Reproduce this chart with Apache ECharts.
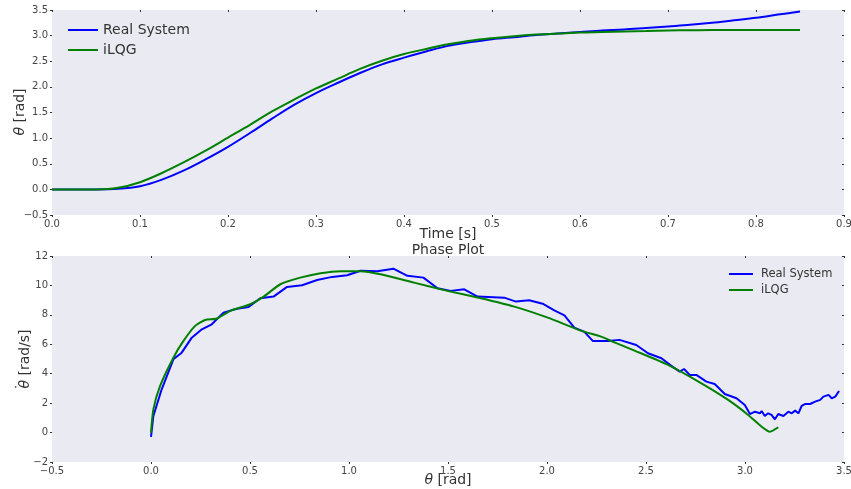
<!DOCTYPE html>
<html>
<head>
<meta charset="utf-8">
<script src="https://cdn.jsdelivr.net/npm/echarts@6/dist/echarts.min.js"></script>
<style>html,body{margin:0;padding:0;background:#fff;}#c{width:851px;height:489px;}</style>
</head>
<body>
<div id="c"></div>
<script>
// ---- Data ----
const timeS      = [0, 0.025, 0.05, 0.075, 0.1, 0.125, 0.15, 0.175, 0.2, 0.225, 0.25, 0.275, 0.3, 0.325, 0.35, 0.375, 0.4, 0.425, 0.45, 0.475, 0.5, 0.525, 0.55, 0.575, 0.6, 0.625, 0.65, 0.675, 0.7, 0.725, 0.75, 0.775, 0.8, 0.825, 0.85];
const realTheta  = [0, 0, 0, 0.01, 0.06, 0.19, 0.37, 0.59, 0.83, 1.10, 1.38, 1.65, 1.88, 2.08, 2.27, 2.44, 2.57, 2.69, 2.80, 2.87, 2.93, 2.97, 3.01, 3.04, 3.07, 3.10, 3.12, 3.15, 3.18, 3.21, 3.25, 3.30, 3.35, 3.41, 3.47];
const ilqgTheta  = [0, 0, 0, 0.03, 0.14, 0.32, 0.53, 0.76, 1.01, 1.26, 1.52, 1.75, 1.97, 2.16, 2.35, 2.51, 2.64, 2.74, 2.83, 2.90, 2.95, 2.99, 3.02, 3.04, 3.06, 3.07, 3.08, 3.09, 3.10, 3.105, 3.11, 3.11, 3.11, 3.11, 3.11];

const phaseRealTheta = [0, 0.012, 0.054, 0.113, 0.155, 0.206, 0.257, 0.307, 0.366, 0.434, 0.493, 0.552, 0.619, 0.687, 0.763, 0.839, 0.915, 0.991, 1.058, 1.143, 1.224, 1.295, 1.376, 1.447, 1.514, 1.582, 1.649, 1.784, 1.843, 1.910, 1.978, 2.037, 2.088, 2.138, 2.189, 2.231, 2.307, 2.366, 2.451, 2.510, 2.578, 2.628, 2.670, 2.692, 2.721, 2.754, 2.805, 2.847, 2.898, 2.957, 2.999, 3.025, 3.050, 3.076, 3.084, 3.100, 3.117, 3.134, 3.151, 3.168, 3.194, 3.219, 3.236, 3.253, 3.270, 3.286, 3.303, 3.329, 3.354, 3.380, 3.396, 3.422, 3.438, 3.456, 3.475];
const phaseRealVel   = [-0.3, 1.13, 2.94, 4.98, 5.43, 6.45, 7.02, 7.36, 8.15, 8.42, 8.54, 9.13, 9.24, 9.90, 10.01, 10.37, 10.58, 10.69, 11.00, 10.97, 11.14, 10.65, 10.53, 9.81, 9.63, 9.74, 9.24, 9.17, 8.90, 8.99, 8.76, 8.31, 7.97, 7.13, 6.84, 6.23, 6.23, 6.30, 5.95, 5.39, 5.05, 4.53, 4.14, 4.32, 3.92, 3.92, 3.46, 3.30, 2.62, 2.33, 1.88, 1.26, 1.42, 1.31, 1.47, 1.13, 1.31, 1.20, 0.90, 1.26, 1.13, 1.42, 1.31, 1.49, 1.31, 1.81, 1.94, 1.94, 2.10, 2.22, 2.44, 2.56, 2.33, 2.44, 2.83];
const phaseIlqgTheta = [0, 0.012, 0.046, 0.113, 0.164, 0.223, 0.273, 0.333, 0.400, 0.501, 0.569, 0.653, 0.754, 0.856, 0.957, 1.058, 1.159, 1.328, 1.497, 1.666, 1.835, 2.004, 2.175, 2.273, 2.344, 2.442, 2.611, 2.780, 2.915, 3.016, 3.084, 3.126, 3.168];
const phaseIlqgVel   = [0, 1.58, 3.17, 5.09, 6.23, 7.25, 7.65, 7.75, 8.27, 8.72, 9.24, 10.08, 10.53, 10.83, 10.97, 10.97, 10.76, 10.19, 9.63, 9.13, 8.56, 7.81, 6.91, 6.52, 6.11, 5.57, 4.60, 3.35, 2.22, 1.20, 0.40, 0.06, 0.36];

const topXTicks = {min: 0, max: 0.9, interval: 0.1};
const topYTicks = {min: -0.5, max: 3.5, interval: 0.5};
const botXTicks = {min: -0.5, max: 3.5, interval: 0.5};
const botYTicks = {min: -2, max: 12, interval: 2};

const seriesNames = ['Real System', 'iLQG'];
const colors = ['#0000FF', '#008000'];

// ---- Chart ----
const zip = (a, b) => a.map((v, i) => [v, b[i]]);
const fmt1 = v => v.toFixed(1).replace('-', '\u2212');
const fmt0 = v => String(Math.round(v)).replace('-', '\u2212');
const FONT = 'DejaVu Sans';
const TXT = '#333';
const LABEL_SIZE = 14;

function mainAxis(t, pos, formatter, extra) {
  return Object.assign({
    type: 'value', min: t.min, max: t.max, interval: t.interval, position: pos,
    axisLine: {show: false, onZero: false},
    axisTick: {show: true, inside: false, length: 2, lineStyle: {color: '#333'}},
    splitLine: {show: false},
    axisLabel: {show: true, formatter: formatter, color: '#444', fontFamily: FONT, fontSize: 10, margin: 4}
  }, extra || {});
}
function sideAxis(t, pos, gridIndex) {
  return {
    type: 'value', min: t.min, max: t.max, interval: t.interval, position: pos, gridIndex: gridIndex,
    axisLine: {show: false, onZero: false},
    axisTick: {show: true, inside: true, length: 2, lineStyle: {color: '#333'}},
    splitLine: {show: false}, axisLabel: {show: false}
  };
}
const italicRich = {i: {fontFamily: FONT, fontStyle: 'italic', fontSize: LABEL_SIZE, fill: TXT, color: TXT}};
const labelFont = LABEL_SIZE + 'px "DejaVu Sans"';
function label(text, x, y, rotated, extraChildren) {
  const children = [{type: 'text', x: 0, y: 0, style: {text: text, rich: italicRich, font: labelFont, fill: TXT, align: 'center', verticalAlign: 'middle'}}];
  return {type: 'group', x: x, y: y, rotation: rotated ? Math.PI / 2 : 0, silent: true, children: children.concat(extraChildren || [])};
}

const chart = echarts.init(document.getElementById('c'), null, {renderer: 'canvas'});
const option = {
  animation: false,
  backgroundColor: '#fff',
  textStyle: {fontFamily: FONT},
  grid: [
    {left: 52, right: 7, top: 10, height: 205, show: true, backgroundColor: '#EAEAF2', borderWidth: 0, containLabel: false, outerBoundsMode: 'none'},
    {left: 52, right: 7, top: 256, height: 206, show: true, backgroundColor: '#EAEAF2', borderWidth: 0, containLabel: false, outerBoundsMode: 'none'}
  ],
  xAxis: [
    mainAxis(topXTicks, 'bottom', fmt1, {gridIndex: 0}),
    mainAxis(botXTicks, 'bottom', fmt1, {gridIndex: 1}),
    sideAxis(topXTicks, 'top', 0),
    sideAxis(botXTicks, 'top', 1)
  ],
  yAxis: [
    mainAxis(topYTicks, 'left', fmt1, {gridIndex: 0}),
    mainAxis(botYTicks, 'left', fmt0, {gridIndex: 1}),
    sideAxis(topYTicks, 'right', 0),
    sideAxis(botYTicks, 'right', 1)
  ],
  graphic: [
    label('Time [s]', 448, 234, false),
    label('Phase Plot', 448, 250, false),
    label('{i|θ} [rad]', 448, 480, false),
    label('{i|θ} [rad]', 20, 112, true),
    label('{i|θ} [rad/s]', 25, 359, true,
      [{type: 'text', x: -28, y: -3, style: {text: '\u02D9', font: labelFont, fill: TXT, align: 'center', verticalAlign: 'middle'}}])
  ],
  legend: [
    {data: [seriesNames[0]], left: 63, top: 18, icon: 'rect', itemWidth: 30, itemHeight: 2, itemGap: 0,
      textStyle: {fontFamily: FONT, fontSize: 14, color: TXT, padding: [0, 0, 0, 0]}},
    {data: [seriesNames[1]], left: 63, top: 38, icon: 'rect', itemWidth: 30, itemHeight: 2, itemGap: 0,
      textStyle: {fontFamily: FONT, fontSize: 14, color: TXT, padding: [0, 0, 0, 0]}},
    {data: [seriesNames[0]], left: 724, top: 263, icon: 'rect', itemWidth: 24, itemHeight: 2, itemGap: 0,
      textStyle: {fontFamily: FONT, fontSize: 11.5, color: TXT, padding: [0, 0, 0, 3]}},
    {data: [seriesNames[1]], left: 724, top: 279, icon: 'rect', itemWidth: 24, itemHeight: 2, itemGap: 0,
      textStyle: {fontFamily: FONT, fontSize: 11.5, color: TXT, padding: [0, 0, 0, 3]}}
  ],
  series: [
    {name: seriesNames[0], type: 'line', xAxisIndex: 0, yAxisIndex: 0, data: zip(timeS, realTheta),
      showSymbol: false, smooth: 0.35, lineStyle: {color: colors[0], width: 2}, itemStyle: {color: colors[0]}},
    {name: seriesNames[1], type: 'line', xAxisIndex: 0, yAxisIndex: 0, data: zip(timeS, ilqgTheta),
      showSymbol: false, smooth: 0.35, lineStyle: {color: colors[1], width: 2}, itemStyle: {color: colors[1]}},
    {name: seriesNames[0], type: 'line', xAxisIndex: 1, yAxisIndex: 1, data: zip(phaseRealTheta, phaseRealVel),
      showSymbol: false, lineStyle: {color: colors[0], width: 2}, itemStyle: {color: colors[0]}},
    {name: seriesNames[1], type: 'line', xAxisIndex: 1, yAxisIndex: 1, data: zip(phaseIlqgTheta, phaseIlqgVel),
      showSymbol: false, smooth: 0.2, lineStyle: {color: colors[1], width: 2}, itemStyle: {color: colors[1]}}
  ]
};
chart.setOption(option);
</script>
</body>
</html>
